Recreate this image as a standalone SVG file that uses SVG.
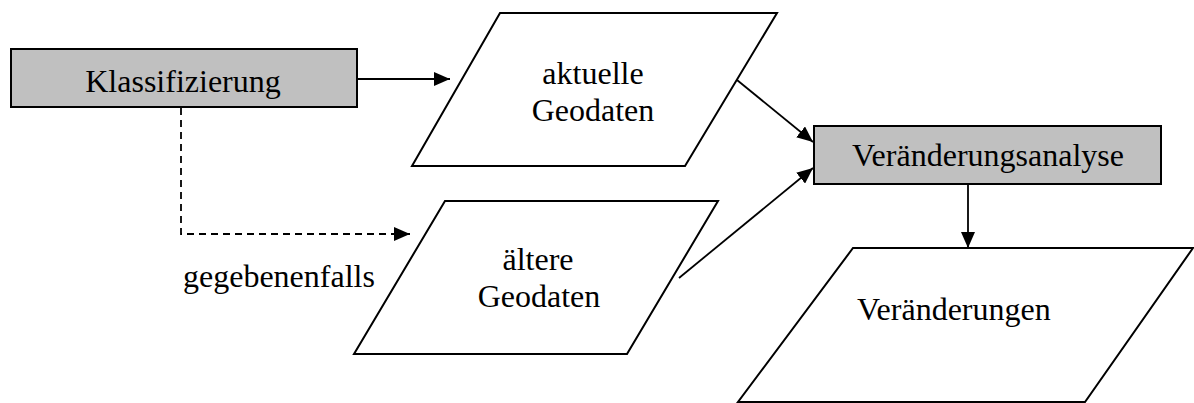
<svg xmlns="http://www.w3.org/2000/svg" width="1194" height="403" viewBox="0 0 1194 403">
<style>
.box{fill:#c0c0c0;stroke:#000;stroke-width:2}
.para{fill:#fff;stroke:#000;stroke-width:2}
.lbl{font-family:"Liberation Serif","Times New Roman",serif;font-size:32px;fill:#000}
.c{text-anchor:middle}
.edge{fill:none;stroke:#000;stroke-width:1.8}
.dash{stroke-dasharray:7 5}
</style>
<defs>
<marker id="ah" markerUnits="userSpaceOnUse" markerWidth="18" markerHeight="14" refX="16" refY="7" orient="auto">
<path d="M0,0 L16,7 L0,14 Z" fill="#000"/>
</marker>
</defs>
<rect width="1194" height="403" fill="#fff"/>
<g id="connectors">
<line class="edge" x1="357" y1="79" x2="450" y2="79" marker-end="url(#ah)"/>
<polyline class="edge dash" points="181,108 181,234 410,234" marker-end="url(#ah)"/>
<line class="edge" x1="737" y1="80" x2="813" y2="142" marker-end="url(#ah)"/>
<line class="edge" x1="679" y1="278" x2="813" y2="168" marker-end="url(#ah)"/>
<line class="edge" x1="968" y1="184" x2="968" y2="248" marker-end="url(#ah)"/>
</g>
<g id="klassifizierung">
<rect class="box" x="11" y="49" width="346" height="58"/>
<text class="lbl c" x="183" y="92">Klassifizierung</text>
</g>
<g id="aktuelle-geodaten">
<polygon class="para" points="500,13 777,13 685,166 412,166"/>
<text class="lbl c" x="593" y="84">aktuelle</text>
<text class="lbl c" x="593" y="121">Geodaten</text>
</g>
<g id="aeltere-geodaten">
<polygon class="para" points="445,201 718,201 627,354 354,354"/>
<text class="lbl c" x="538" y="270">ältere</text>
<text class="lbl c" x="539" y="307">Geodaten</text>
</g>
<g id="gegebenenfalls">
<text class="lbl" x="183" y="287">gegebenenfalls</text>
</g>
<g id="veraenderungsanalyse">
<rect class="box" x="814" y="126" width="347" height="58"/>
<text class="lbl c" x="988" y="166">Veränderungsanalyse</text>
</g>
<g id="veraenderungen">
<polygon class="para" points="853,248 1193,248 1085,402 738,402"/>
<text class="lbl" x="857" y="320">Veränderungen</text>
</g>
</svg>
